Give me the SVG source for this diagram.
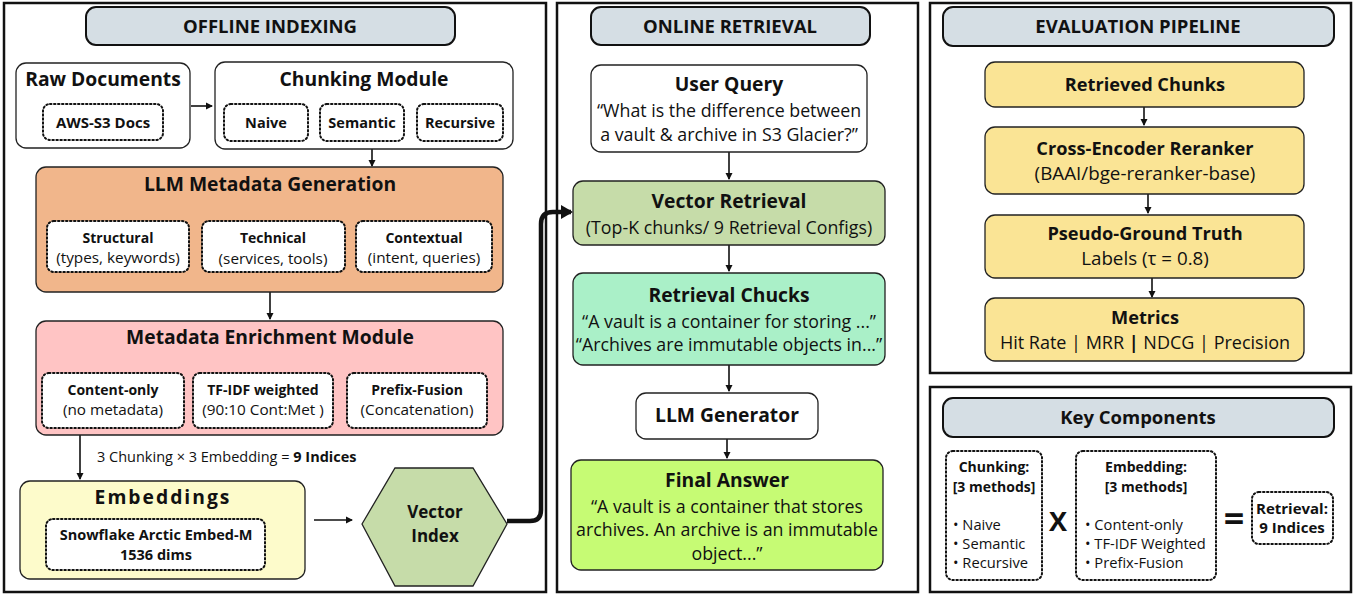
<svg xmlns="http://www.w3.org/2000/svg" width="1360" height="597" viewBox="0 0 1360 597">
<defs>
<marker id="ah" markerWidth="8" markerHeight="8" refX="6" refY="4" orient="auto" markerUnits="userSpaceOnUse">
<path d="M0,0.5 L7,4 L0,7.5 Z" fill="#111"/>
</marker>
<marker id="ahb" markerWidth="14" markerHeight="14" refX="10" refY="7" orient="auto" markerUnits="userSpaceOnUse">
<path d="M0,0 L12,7 L0,14 Z" fill="#111"/>
</marker>
<style>
text{font-family:"Open Sans","Liberation Sans",sans-serif;fill:#111;text-anchor:middle}
.panel{fill:#fff;stroke:#111;stroke-width:2.5}
.hdr{fill:#d5dee4;stroke:#111;stroke-width:2}
.hdrt{font-size:18.5px;font-weight:700}
.node{stroke:#222;stroke-width:1.3}
.dot{fill:#fff;stroke:#111;stroke-width:2;stroke-dasharray:1.5 2.5;stroke-linecap:round}
.b{font-weight:700}
.t19{font-size:19.3px;font-weight:700}
.bs{font-size:14px;font-weight:700}
.rs{font-size:15.3px}
.r18{font-size:17.8px}
.b18{font-size:18.2px;font-weight:700}
.conn{stroke:#111;stroke-width:1.6;fill:none}
</style>
</defs>

<!-- panels -->
<g id="panels">
<rect class="panel" x="4" y="3" width="542" height="589"/>
<rect class="panel" x="557" y="3" width="361" height="589"/>
<rect class="panel" x="930" y="3" width="421" height="370"/>
<rect class="panel" x="930" y="387" width="421" height="205"/>
</g>

<g id="hdr-offline">
<rect class="hdr" x="86" y="7" width="369" height="38" rx="10"/>
<text class="hdrt" x="270" y="33">OFFLINE INDEXING</text>
</g>
<g id="hdr-online">
<rect class="hdr" x="591" y="7" width="279" height="38" rx="10"/>
<text class="hdrt" x="730" y="33">ONLINE RETRIEVAL</text>
</g>
<g id="hdr-eval">
<rect class="hdr" x="943" y="7" width="391" height="39" rx="10"/>
<text class="hdrt" x="1138" y="33">EVALUATION PIPELINE</text>
</g>
<g id="hdr-key">
<rect class="hdr" x="943" y="398" width="391" height="39" rx="10"/>
<text class="hdrt" x="1138" y="424">Key Components</text>
</g>

<!-- connectors -->
<g id="connectors">
<line class="conn" x1="191" y1="106" x2="212" y2="106" marker-end="url(#ah)"/>
<line class="conn" x1="372" y1="149" x2="372" y2="166" marker-end="url(#ah)"/>
<line class="conn" x1="270" y1="292" x2="270" y2="319" marker-end="url(#ah)"/>
<line class="conn" x1="80" y1="435" x2="80" y2="479" marker-end="url(#ah)"/>
<line class="conn" x1="314" y1="520" x2="352" y2="520" marker-end="url(#ah)"/>
<path d="M507,521 L530,521 Q541,521 541,510 L541,224 Q541,212 553,212 L571,212" fill="none" stroke="#111" stroke-width="4.5" marker-end="url(#ahb)"/>
<line class="conn" x1="729" y1="152" x2="729" y2="179" marker-end="url(#ah)"/>
<line class="conn" x1="729" y1="245" x2="729" y2="271" marker-end="url(#ah)"/>
<line class="conn" x1="729" y1="365" x2="729" y2="391" marker-end="url(#ah)"/>
<line class="conn" x1="727" y1="439" x2="727" y2="458" marker-end="url(#ah)"/>
<line class="conn" x1="1144" y1="107" x2="1144" y2="125" marker-end="url(#ah)"/>
<line class="conn" x1="1148" y1="194" x2="1148" y2="213" marker-end="url(#ah)"/>
<line class="conn" x1="1152" y1="278" x2="1152" y2="297" marker-end="url(#ah)"/>
</g>

<!-- offline nodes -->
<g id="raw-docs">
<rect class="node" x="16" y="63" width="174" height="85" rx="10" fill="#fff"/>
<text class="t19" x="103" y="86">Raw Documents</text>
<rect class="dot" x="43" y="104" width="120" height="36" rx="7"/>
<text class="b" x="103" y="128" style="font-size:15px">AWS-S3 Docs</text>
</g>

<g id="chunking">
<rect class="node" x="215" y="62" width="298" height="87" rx="10" fill="#fff"/>
<text class="t19" x="364" y="86">Chunking Module</text>
<rect class="dot" x="224" y="104" width="84" height="37" rx="7"/>
<text class="b" x="266" y="128" style="font-size:14.5px">Naive</text>
<rect class="dot" x="320" y="104" width="84" height="37" rx="7"/>
<text class="b" x="362" y="128" style="font-size:14.5px">Semantic</text>
<rect class="dot" x="417" y="104" width="86" height="37" rx="7"/>
<text class="b" x="460" y="128" style="font-size:14.5px">Recursive</text>
</g>

<g id="llm-meta">
<rect class="node" x="36" y="167" width="467" height="125" rx="10" fill="#f1b68b"/>
<text class="t19" x="270" y="191">LLM Metadata Generation</text>
<rect class="dot" x="47" y="221" width="142" height="51" rx="7"/>
<text class="bs" x="118" y="243">Structural</text>
<text class="rs" x="118" y="263">(types, keywords)</text>
<rect class="dot" x="202" y="221" width="143" height="51" rx="7"/>
<text class="bs" x="273" y="243">Technical</text>
<text class="rs" x="273" y="264">(services, tools)</text>
<rect class="dot" x="356" y="221" width="136" height="51" rx="7"/>
<text class="bs" x="424" y="243">Contextual</text>
<text class="rs" x="424" y="263">(intent, queries)</text>
</g>

<g id="enrich">
<rect class="node" x="36" y="321" width="467" height="114" rx="10" fill="#ffc4c4"/>
<text class="t19" x="270" y="344">Metadata Enrichment Module</text>
<rect class="dot" x="42" y="373" width="142" height="55" rx="7"/>
<text class="bs" x="113" y="395">Content-only</text>
<text class="rs" x="113" y="415">(no metadata)</text>
<rect class="dot" x="193" y="373" width="140" height="55" rx="7"/>
<text class="bs" x="263" y="395">TF-IDF weighted</text>
<text class="rs" x="263" y="415">(90:10 Cont:Met )</text>
<rect class="dot" x="347" y="373" width="140" height="55" rx="7"/>
<text class="bs" x="417" y="395">Prefix-Fusion</text>
<text class="rs" x="417" y="415">(Concatenation)</text>
</g>

<text x="97" y="462" style="text-anchor:start;font-size:14.5px">3 Chunking × 3 Embedding = <tspan class="b">9 Indices</tspan></text>

<g id="embeddings">
<rect class="node" x="20" y="481" width="285" height="98" rx="10" fill="#fdfbcb"/>
<text class="t19" x="163" y="504" style="letter-spacing:2px">Embeddings</text>
<rect class="dot" x="46" y="519" width="219" height="51" rx="7"/>
<text class="bs" x="156" y="540" style="font-size:14.5px">Snowflake Arctic Embed-M</text>
<text class="bs" x="156" y="560" style="font-size:14.5px">1536 dims</text>
</g>

<g id="vector-index">
<polygon class="node" points="362,524 395,468 473,468 507,524 473,586 395,586" fill="#c6dca9"/>
<text class="b" x="435" y="518" style="font-size:17px">Vector</text>
<text class="b" x="435" y="542" style="font-size:17px">Index</text>
</g>

<!-- online nodes -->
<g id="user-query">
<rect class="node" x="591" y="65" width="276" height="87" rx="10" fill="#fff"/>
<text class="t19" x="729" y="91">User Query</text>
<text class="r18" x="729" y="117">“What is the difference between</text>
<text class="r18" x="729" y="141">a vault &amp; archive in S3 Glacier?”</text>
</g>

<g id="vector-retrieval">
<rect class="node" x="573" y="181" width="312" height="64" rx="10" fill="#c6dca9"/>
<text class="t19" x="729" y="208">Vector Retrieval</text>
<text class="r18" x="729" y="234">(Top-K chunks/ 9 Retrieval Configs)</text>
</g>

<g id="retrieval-chucks">
<rect class="node" x="573" y="273" width="312" height="92" rx="10" fill="#aaf0c8"/>
<text class="t19" x="729" y="302">Retrieval Chucks</text>
<text class="r18" x="729" y="328">“A vault is a container for storing ...”</text>
<text class="r18" x="729" y="351">“Archives are immutable objects in...”</text>
</g>

<g id="llm-generator">
<rect class="node" x="636" y="393" width="182" height="46" rx="10" fill="#fff"/>
<text class="t19" x="727" y="422">LLM Generator</text>
</g>

<g id="final-answer">
<rect class="node" x="571" y="460" width="312" height="110" rx="10" fill="#c6fb74"/>
<text class="t19" x="727" y="487">Final Answer</text>
<text class="r18" x="727" y="513">“A vault is a container that stores</text>
<text class="r18" x="727" y="536">archives. An archive is an immutable</text>
<text class="r18" x="727" y="560">object...”</text>
</g>

<!-- evaluation nodes -->
<g id="retrieved-chunks">
<rect class="node" x="985" y="62" width="319" height="45" rx="10" fill="#fae495"/>
<text class="b18" x="1145" y="91">Retrieved Chunks</text>
</g>
<g id="reranker">
<rect class="node" x="985" y="127" width="319" height="67" rx="10" fill="#fae495"/>
<text class="b18" x="1145" y="155">Cross-Encoder Reranker</text>
<text x="1145" y="180" style="font-size:18.8px">(BAAI/bge-reranker-base)</text>
</g>
<g id="pseudo-gt">
<rect class="node" x="985" y="215" width="319" height="63" rx="10" fill="#fae495"/>
<text class="b18" x="1145" y="240">Pseudo-Ground Truth</text>
<text x="1145" y="265" style="font-size:18.8px">Labels (τ = 0.8)</text>
</g>
<g id="metrics">
<rect class="node" x="985" y="298" width="319" height="63" rx="10" fill="#fae495"/>
<text class="b18" x="1145" y="324">Metrics</text>
<text x="1145" y="349" style="font-size:18px">Hit Rate | MRR <tspan class="b">|</tspan> NDCG | Precision</text>
</g>

<!-- key components -->
<g id="key-chunking">
<rect class="dot" x="946" y="451" width="96" height="129" rx="7"/>
<text class="bs" x="994" y="472">Chunking:</text>
<text class="bs" x="994" y="492">[3 methods]</text>
<text class="rs" x="953" y="530" style="text-anchor:start;font-size:14.7px">• Naive</text>
<text class="rs" x="953" y="549" style="text-anchor:start;font-size:14.7px">• Semantic</text>
<text class="rs" x="953" y="568" style="text-anchor:start;font-size:14.7px">• Recursive</text>
</g>
<text x="1058" y="531" style="font-size:27px;font-weight:700">X</text>
<g id="key-embedding">
<rect class="dot" x="1076" y="451" width="140" height="129" rx="7"/>
<text class="bs" x="1146" y="472">Embedding:</text>
<text class="bs" x="1146" y="492">[3 methods]</text>
<text x="1085" y="530" style="text-anchor:start;font-size:14.7px">• Content-only</text>
<text x="1085" y="549" style="text-anchor:start;font-size:14.7px">• TF-IDF Weighted</text>
<text x="1085" y="568" style="text-anchor:start;font-size:14.7px">• Prefix-Fusion</text>
</g>
<text x="1234" y="531" style="font-size:36px;font-weight:700">=</text>
<g id="key-retrieval">
<rect class="dot" x="1252" y="492" width="81" height="52" rx="7"/>
<text class="bs" x="1292" y="514" style="font-size:15px">Retrieval:</text>
<text class="bs" x="1292" y="533" style="font-size:15px">9 Indices</text>
</g>
</svg>
